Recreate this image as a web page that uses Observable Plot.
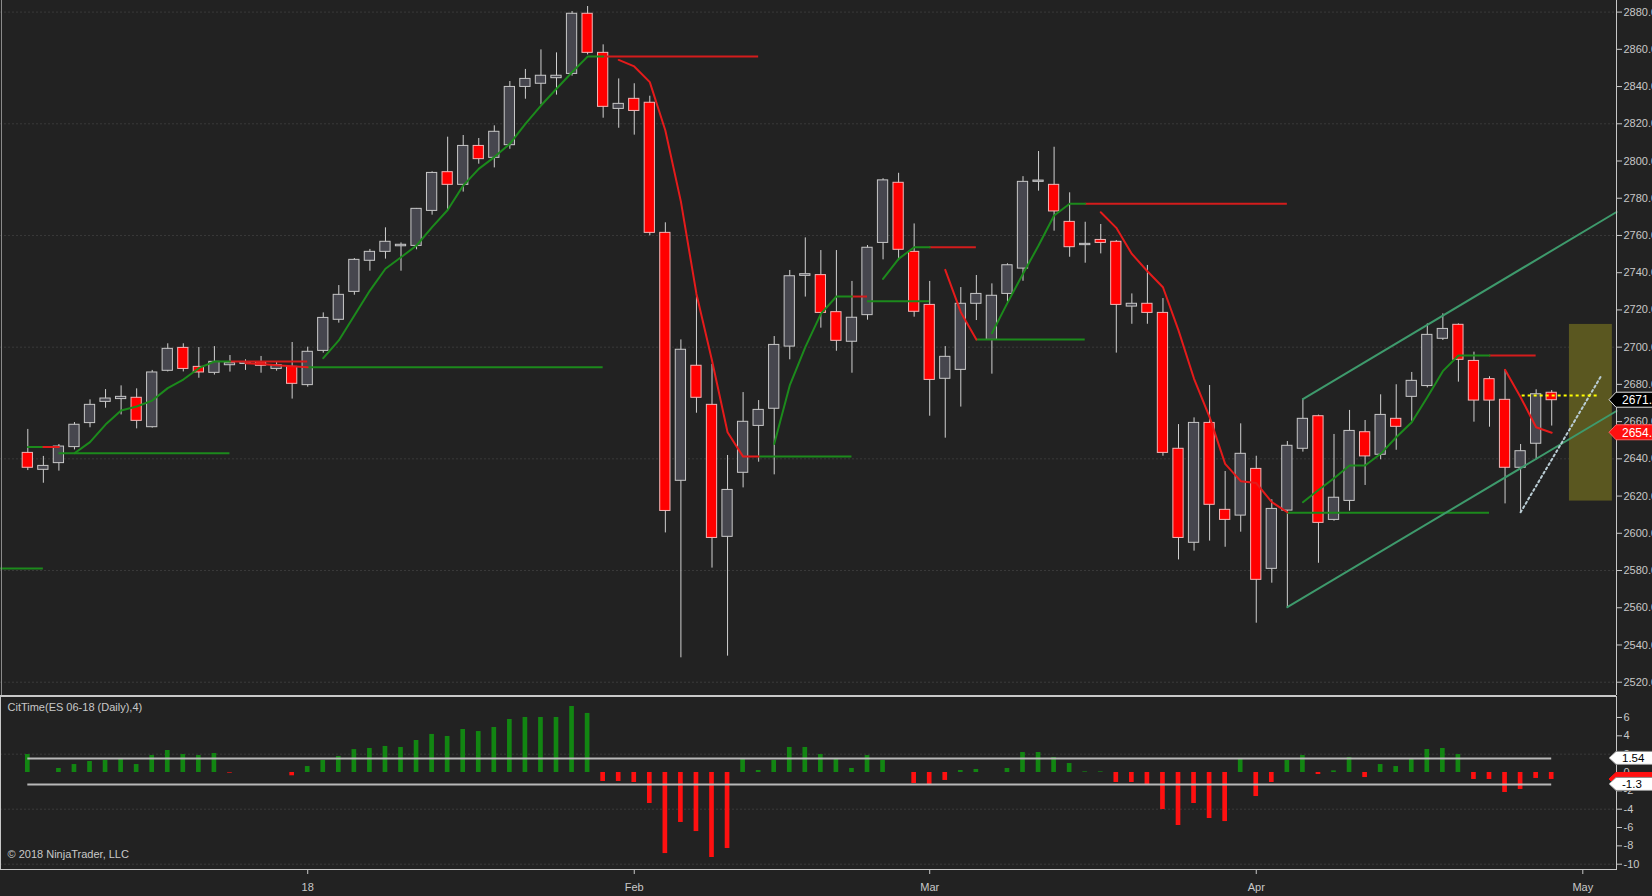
<!DOCTYPE html>
<html>
<head>
<meta charset="utf-8">
<script src="https://cdn.jsdelivr.net/npm/d3@7"></script>
<script src="https://cdn.jsdelivr.net/npm/@observablehq/plot@0.6"></script>
<style>
html, body { margin: 0; padding: 0; background: #222222; overflow: hidden; }
#chart { width: 1652px; height: 896px; }
#chart svg { display: block; }
</style>
</head>
<body>
<div id="chart"></div>
<script>
// ---------- DATA ----------
// daily bars, index 0 = first bar (early Dec 2017) ... 98 = last bar (Apr 27 2018)
const opens  = [2643.2,2634.1,2637.7,2646.3,2659.2,2670.6,2672.1,2672.8,2657.0,2687.3,
                2699.6,2689.4,2686.2,2690.3,2691.0,2691.9,2688.3,2689.4,2679.6,2698.0,
                2714.7,2729.7,2746.4,2751.2,2754.2,2754.4,2773.2,2794.0,2787.2,2808.1,
                2801.7,2808.5,2839.8,2841.5,2844.5,2846.8,2879.1,2858.1,2828.0,2833.4,
                2831.3,2761.4,2628.2,2690.0,2669.0,2598.1,2632.5,2657.7,2666.9,2700.3,
                2738.3,2738.7,2718.8,2702.9,2717.2,2756.0,2788.3,2751.2,2722.7,2683.0,
                2687.8,2723.3,2703.9,2728.6,2742.2,2788.8,2787.2,2767.3,2754.8,2757.6,
                2756.6,2721.8,2723.3,2718.4,2645.4,2594.9,2659.3,2612.6,2609.5,2634.6,
                2580.9,2612.2,2645.4,2662.9,2607.2,2617.4,2654.3,2642.2,2661.5,2673.3,
                2679.1,2704.5,2712.0,2692.6,2682.8,2671.7,2635.2,2648.1,2675.5];
const highs  = [2655.8,2641.3,2647.7,2659.5,2671.7,2677.2,2679.2,2677.6,2687.5,2701.8,
                2701.8,2699.8,2700.3,2695.5,2693.2,2695.0,2691.9,2702.5,2700.0,2718.4,
                2733.1,2747.6,2752.5,2764.1,2756.0,2774.5,2794.2,2812.8,2813.7,2812.1,
                2818.9,2842.7,2849.2,2859.7,2858.1,2880.3,2883.0,2862.4,2844.1,2841.5,
                2834.8,2766.8,2703.9,2728.6,2690.7,2641.8,2675.6,2671.3,2705.7,2741.2,
                2758.7,2751.9,2751.9,2735.3,2754.6,2790.5,2793.4,2766.2,2735.3,2700.3,
                2732.0,2738.5,2734.0,2744.8,2791.6,2805.1,2807.4,2782.9,2767.1,2765.9,
                2757.3,2728.6,2743.9,2726.1,2658.4,2662.0,2679.4,2633.2,2658.8,2641.4,
                2618.0,2649.3,2672.1,2663.5,2653.1,2666.0,2660.6,2674.4,2679.8,2686.4,
                2712.5,2717.9,2712.5,2697.3,2684.1,2687.8,2647.7,2677.1,2676.7];
const lows   = [2633.7,2626.9,2633.4,2644.8,2656.7,2667.2,2663.6,2656.1,2656.5,2686.7,
                2686.7,2683.3,2685.0,2686.6,2687.5,2686.0,2687.1,2672.1,2678.5,2696.8,
                2712.9,2727.9,2740.8,2747.3,2740.8,2752.3,2770.9,2773.8,2783.3,2798.3,
                2796.3,2806.3,2833.2,2830.2,2835.4,2845.6,2857.0,2823.0,2817.6,2813.9,
                2759.8,2600.2,2533.1,2664.5,2581.3,2534.0,2624.4,2638.2,2631.4,2693.2,
                2726.9,2710.2,2697.8,2686.0,2714.5,2746.9,2746.5,2716.1,2662.9,2651.1,
                2667.8,2714.3,2685.5,2724.2,2735.4,2783.8,2762.3,2748.3,2745.1,2750.1,
                2696.8,2712.3,2712.3,2641.4,2585.7,2590.4,2595.8,2592.5,2600.6,2551.7,
                2573.2,2560.3,2643.6,2583.9,2606.5,2611.9,2625.7,2639.5,2644.6,2660.2,
                2678.1,2703.6,2681.2,2659.7,2657.0,2615.8,2611.3,2639.5,2657.6];
const closes = [2635.2,2636.2,2646.6,2658.3,2669.0,2672.4,2673.3,2660.4,2686.4,2699.1,
                2688.3,2686.4,2692.1,2691.4,2691.9,2690.0,2690.3,2680.3,2697.5,2715.7,
                2728.1,2746.9,2751.2,2756.6,2755.0,2774.3,2793.6,2787.2,2808.1,2801.0,
                2815.7,2839.8,2844.1,2845.8,2845.8,2879.1,2858.1,2829.1,2830.7,2826.9,
                2761.4,2612.0,2698.6,2672.8,2597.5,2623.3,2659.9,2666.3,2701.2,2738.1,
                2739.2,2718.4,2703.4,2715.8,2753.4,2789.6,2752.3,2719.0,2682.4,2694.8,
                2723.3,2728.6,2727.6,2744.0,2788.8,2789.5,2772.9,2753.7,2755.5,2756.0,
                2722.7,2723.3,2718.4,2643.2,2597.5,2659.3,2615.3,2607.2,2642.7,2575.0,
                2613.1,2647.0,2661.5,2605.6,2619.1,2655.0,2641.3,2663.6,2657.2,2681.9,
                2706.6,2709.8,2693.2,2671.3,2671.3,2635.2,2644.1,2674.7,2671.5];

// CitTime(ES 06-18 (Daily),4) histogram
const citTime = [1.96,0,0.44,0.87,1.2,1.31,1.53,0.87,1.85,2.4,
                 1.96,1.85,2.07,-0.07,0,0,0,-0.36,0.65,1.31,
                 1.75,2.5,2.62,2.84,2.73,3.49,4.15,3.93,4.69,4.47,
                 4.91,5.78,6.0,6.0,6.0,7.2,6.44,-0.98,-0.98,-1.09,
                 -3.38,-8.84,-5.45,-6.44,-9.27,-8.29,1.53,0.22,1.31,2.73,
                 2.73,1.96,1.53,0.44,1.85,1.31,0,-1.2,-1.31,-0.87,
                 0.22,0.33,0,0.44,2.18,2.18,1.64,0.98,0.07,0.07,
                 -1.09,-1.09,-1.31,-4.04,-5.78,-3.38,-5.02,-5.35,1.53,-2.62,
                 -1.09,1.31,1.85,-0.22,0.18,1.64,-0.55,0.87,0.65,1.53,
                 2.51,2.62,1.96,-0.76,-0.76,-2.18,-1.85,-0.65,-0.76];
const citBands = [{level: 1.54, from: 0, to: 98}, {level: -1.3, from: 0, to: 98}];

// trailing stop: rising (green) and falling (red) runs, [bar index, price]
const upTrail = [
  [[0,2646.3],[1,2646.3]],
  [[3,2643.0],[4,2649.0],[5,2658.4],[6,2666.0],[7,2668.1],[8,2671.3],[9,2678.0],[10,2682.6],[11,2688.7],[12,2692.3],[13,2692.3]],
  [[19,2694.1],[20,2703.6],[21,2717.0],[22,2730.4],[23,2742.1],[24,2748.3],[25,2754.6],[26,2764.5],[27,2773.7],[28,2786.8],[29,2795.8],[30,2802.1],[31,2809.2],[32,2820.0],[33,2829.8],[34,2838.8],[35,2847.7],[36,2856.1],[37,2856.1]],
  [[48,2648.0],[49,2679.4],[50,2700.0],[51,2717.9],[52,2727.2],[53,2727.2]],
  [[55,2736.7],[56,2747.4],[57,2753.7],[58,2753.7]],
  [[62,2707.5],[63,2723.8],[64,2739.4],[65,2754.6],[66,2770.7],[67,2777.0],[68,2777.0]],
  [[82,2616.7],[83,2623.3],[84,2629.6],[85,2636.4],[86,2636.4],[87,2642.7],[88,2651.6],[89,2659.7],[90,2673.1],[91,2687.1],[92,2695.5],[94,2695.5]]
];
const downTrail = [
  [[1,2646.3],[2,2646.3]],
  [[14,2691.4],[15,2690.9],[16,2690.3],[17,2689.8],[18,2689.2]],
  [[38,2854.3],[39,2850.8],[40,2842.4],[41,2816.4],[42,2778.2],[43,2728.6],[44,2692.8],[45,2654.3],[46,2641.2],[47,2641.2]],
  [[59,2741.5],[60,2718.8],[61,2704.1]],
  [[69,2772.5],[70,2764.1],[71,2750.1],[72,2740.8],[73,2732.2],[74,2709.0],[75,2683.0],[76,2662.4],[77,2637.3],[78,2628.0],[79,2627.0],[80,2616.7],[81,2611.3]],
  [[95,2687.8],[96,2673.1],[97,2657.0],[98,2654.0]]
];
// flat levels left after a trend flip: [from bar, to bar, price]
const upLevels   = [[-1.76,1,2581.1],[2,13,2643.0],[18,37,2689.2],[47,53,2641.2],[54,58,2724.7],[61,68,2704.1],[81,94,2611.0]];
const downLevels = [[13,18,2692.3],[37,47,2856.1],[53,54,2727.2],[58,61,2753.7],[68,81,2777.0],[94,97,2695.5]];

// drawing objects
const channelUpper = [[82,2672.1],[102.17,2772.6]];
const channelLower = [[81,2560.3],[102.17,2665.7]];
const projection   = [[96,2611.3],[101.2,2684.8]];
const yellowLevel  = [{from: 96.1, to: 101.1, price: 2674.0}];
const signalBox    = [{from: 99.14, to: 101.9, low: 2617.3, high: 2712.2}];

// axes
const priceTicks = [2520,2540,2560,2580,2600,2620,2640,2660,2680,2700,2720,2740,2760,2780,2800,2820,2840,2860,2880];
const priceGrid  = [2520,2580,2640,2700,2760,2820,2880];
const citTicks   = [-10,-8,-6,-4,-2,0,2,4,6];
const citGrid    = [2,-4,-10];
const monthTickIdx    = [18,39,58,79,100];
const monthTickLabels = ["18","Feb","Mar","Apr","May"];

// ---------- BUILD ----------
const xDomain = [-1.756, 102.167];
const priceDomain = [2512.86, 2886.23];
const citDomain = [-10.578, 8.288];

const candles = opens.map((o, i) => ({i, open: o, high: highs[i], low: lows[i], close: closes[i]}));
const upBars = candles.filter(d => d.close >= d.open);
const downBars = candles.filter(d => d.close < d.open);
const segRows = segs => segs.flatMap((s, k) => s.map(([i, v]) => ({seg: k, i, v})));
const hist = citTime.map((v, i) => ({i, v}));

const GREEN = "#1c8a1c", RED = "#e51b1b", AXIS = "#c8c8c8";
const font = "'Liberation Sans', Arial, sans-serif";

const pricePlot = Plot.plot({
  width: 1652, height: 696,
  marginTop: 0, marginBottom: 1, marginLeft: 0, marginRight: 36,
  style: {background: "#222222", color: AXIS, fontFamily: font, fontSize: "11px"},
  x: {domain: xDomain, axis: null},
  y: {domain: priceDomain, axis: "right", ticks: priceTicks, tickFormat: d => d.toFixed(2), tickSize: 5, tickPadding: 2, label: null},
  marks: [
    Plot.ruleY(priceGrid, {stroke: "#3a3a3a", strokeDasharray: "2,2"}),
    Plot.rect(signalBox, {x1: "from", x2: "to", y1: "low", y2: "high", fill: "#5a5720"}),
    Plot.ruleX(candles, {x: "i", y1: "low", y2: "high", stroke: "#d0d0d0", strokeWidth: 1}),
    Plot.rect(upBars, {x1: d => d.i - 0.33, x2: d => d.i + 0.33, y1: "open", y2: "close", fill: "#46464e", stroke: "#c8c8c8", strokeWidth: 1}),
    Plot.rect(downBars, {x1: d => d.i - 0.33, x2: d => d.i + 0.33, y1: "close", y2: "open", fill: "#ff0000", stroke: "#f2b6b6", strokeWidth: 1}),
    Plot.ruleY(upLevels, {x1: d => d[0], x2: d => d[1], y: d => d[2], stroke: GREEN, strokeWidth: 2}),
    Plot.ruleY(downLevels, {x1: d => d[0], x2: d => d[1], y: d => d[2], stroke: "#d41c1c", strokeWidth: 2}),
    Plot.line(segRows(upTrail), {x: "i", y: "v", z: "seg", stroke: GREEN, strokeWidth: 2}),
    Plot.line(segRows(downTrail), {x: "i", y: "v", z: "seg", stroke: RED, strokeWidth: 2}),
    Plot.line(segRows([channelUpper, channelLower]), {x: "i", y: "v", z: "seg", stroke: "#3e9a6c", strokeWidth: 2}),
    Plot.line(segRows([projection]), {x: "i", y: "v", stroke: "#b9ccd4", strokeWidth: 2, strokeDasharray: "2,3"}),
    Plot.ruleY(yellowLevel, {x1: "from", x2: "to", y: "price", stroke: "#ffff00", strokeWidth: 2, strokeDasharray: "3,3"}),
    Plot.ruleX([xDomain[0]], {stroke: "#8a8a8a", dx: 1}),
    Plot.ruleX([xDomain[1]], {stroke: AXIS}),
    Plot.ruleY([priceDomain[0]], {stroke: AXIS})
  ]
});

const citPlot = Plot.plot({
  width: 1652, height: 200,
  marginTop: 0, marginBottom: 27, marginLeft: 0, marginRight: 36,
  style: {background: "#222222", color: AXIS, fontFamily: font, fontSize: "11px"},
  x: {domain: xDomain, ticks: monthTickIdx, tickFormat: d => monthTickLabels[monthTickIdx.indexOf(d)], tickSize: 5, tickPadding: 9, label: null},
  y: {domain: citDomain, axis: "right", ticks: citTicks, tickFormat: d => String(d), tickSize: 5, tickPadding: 2, label: null},
  marks: [
    Plot.ruleY(citGrid, {stroke: "#3a3a3a", strokeDasharray: "2,2"}),
    Plot.rect(hist.filter(d => d.v > 0), {x1: d => d.i - 0.15, x2: d => d.i + 0.15, y1: 0, y2: "v", fill: "#128612"}),
    Plot.rect(hist.filter(d => d.v < 0), {x1: d => d.i - 0.15, x2: d => d.i + 0.15, y1: "v", y2: 0, fill: "#ff1010"}),
    Plot.ruleY(citBands, {x1: "from", x2: "to", y: "level", stroke: "#b8b8b8", strokeWidth: 2}),
    Plot.frame({stroke: AXIS}),
    Plot.text(["CitTime(ES 06-18 (Daily),4)"], {frameAnchor: "top-left", textAnchor: "start", lineAnchor: "bottom", dx: 7, dy: 14, fill: AXIS, fontSize: 11}),
    Plot.text(["\u00A9 2018 NinjaTrader, LLC"], {frameAnchor: "top-left", textAnchor: "start", lineAnchor: "bottom", dx: 7, dy: 161, fill: AXIS, fontSize: 11})
  ]
});

// value tags on the right axis, placed with the plots' own y scales
function tag(svg, y, fill, stroke, color, text, h, size) {
  const g = d3.select(svg).append("g").attr("text-anchor", "start");
  g.append("path")
    .attr("d", `M1609,${y}L1616,${y - h / 2}L1654,${y - h / 2}L1654,${y + h / 2}L1616,${y + h / 2}Z`)
    .attr("fill", fill).attr("stroke", stroke).attr("stroke-width", 1);
  g.append("text").attr("x", 1622).attr("y", y).attr("dy", "0.36em").attr("text-anchor", "start")
    .attr("fill", color).attr("font-size", size).attr("font-family", font).text(text);
}
const py = pricePlot.scale("y");
tag(pricePlot, py.apply(closes[closes.length - 1]), "#000000", "#e0e0e0", "#ffffff", closes[closes.length - 1].toFixed(2), 15, 12);
const lastStop = downTrail[downTrail.length - 1];
tag(pricePlot, py.apply(lastStop[lastStop.length - 1][1]), "#ff1010", "#ff6060", "#ffffff", lastStop[lastStop.length - 1][1].toFixed(2), 15, 12);

const cy = citPlot.scale("y");
tag(citPlot, cy.apply(citTime[citTime.length - 1]), "#ff1010", "#ff1010", "#ffffff", "", 13, 11);
tag(citPlot, cy.apply(citBands[0].level), "#ffffff", "#909090", "#000000", String(citBands[0].level), 13, 11.5);
tag(citPlot, cy.apply(citBands[1].level), "#ffffff", "#909090", "#000000", String(citBands[1].level), 13, 11.5);

const chart = document.getElementById("chart");
chart.appendChild(pricePlot);
chart.appendChild(citPlot);
</script>
</body>
</html>
